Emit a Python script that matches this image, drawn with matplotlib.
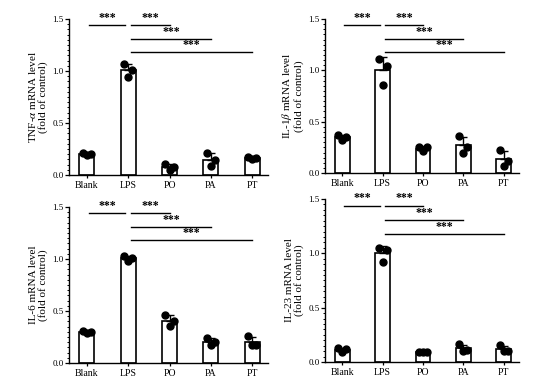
import numpy as np
import matplotlib
matplotlib.use("Agg")
from matplotlib import pyplot as plt
from matplotlib.ticker import MultipleLocator

plt.rcParams['font.family'] = ['Liberation Serif', 'DejaVu Serif']
plt.rcParams['mathtext.fontset'] = 'stix'

groups = ['Blank', 'LPS', 'PO', 'PA', 'PT']

# replicate values (3 per group)
tnf = [[0.21, 0.20, 0.19], [1.07, 1.01, 0.94], [0.105, 0.08, 0.05],
       [0.21, 0.14, 0.09], [0.17, 0.16, 0.155]]
il1b = [[0.367, 0.35, 0.325], [1.11, 1.04, 0.86], [0.25, 0.25, 0.21],
        [0.357, 0.25, 0.20], [0.22, 0.12, 0.07]]
il6 = [[0.31, 0.30, 0.285], [1.026, 1.01, 0.98], [0.465, 0.40, 0.36],
       [0.24, 0.20, 0.17], [0.256, 0.17, 0.17]]
il23 = [[0.128, 0.118, 0.09], [1.05, 1.03, 0.92], [0.09, 0.09, 0.09],
        [0.164, 0.11, 0.10], [0.155, 0.10, 0.10]]

ylabels = [r'TNF-$\alpha$ mRNA level' + '\n(fold of control)',
           r'IL-1$\beta$ mRNA level' + '\n(fold of control)',
           'IL-6 mRNA level\n(fold of control)',
           'IL-23 mRNA level\n(fold of control)']

# comparisons: (start, end, y)
comps = [(0, 1, 1.44), (1, 2, 1.44), (1, 3, 1.31), (1, 4, 1.18)]

panels = [tnf, il1b, il6, il23]
rects = [[0.1234, 0.5419, 0.356, 0.4084],
         [0.5814, 0.547, 0.347, 0.403],
         [0.1234, 0.0497, 0.356, 0.4084],
         [0.5814, 0.0524, 0.347, 0.4267]]

fig = plt.figure(figsize=(5.59, 3.82), dpi=100)

offs = np.array([-0.1, 0.1, 0.0])
for data, lab, rc in zip(panels, ylabels, rects):
    ax = fig.add_axes(rc)
    x = np.arange(len(groups))
    arr = np.array(data)
    m = arr.mean(axis=1)
    sd = arr.std(axis=1, ddof=1)
    ax.bar(x, m, width=0.36, color='white', edgecolor='black', linewidth=1.2, zorder=2)
    ax.errorbar(x, m, yerr=[np.zeros_like(sd), sd], fmt='none', ecolor='black',
                elinewidth=1.0, capsize=3, capthick=1.0, zorder=3)
    for i in range(len(groups)):
        ax.plot(x[i] + offs, arr[i], 'o', color='black', markersize=5, zorder=4,
                clip_on=False)
    for a, b, yy in comps:
        x0 = a + 0.05 if a == 0 else a + 0.07
        x1 = b - 0.07 if a == 0 else b
        ax.plot([x0, x1], [yy, yy], color='black', lw=1.0, clip_on=False)
        ax.text((x0 + x1) / 2, yy + 0.01, '***', ha='center', va='bottom',
                fontsize=8.5, fontweight='bold', clip_on=False)
    ax.set_xlim(-0.43, 4.38)
    ax.set_ylim(0, 1.5)
    ax.set_xticks(x)
    ax.set_xticklabels(groups, fontsize=7)
    ax.set_yticks([0, 0.5, 1.0, 1.5])
    ax.set_yticklabels(['0.0', '0.5', '1.0', '1.5'], fontsize=6.5)
    ax.yaxis.set_minor_locator(MultipleLocator(0.05))
    ax.tick_params(axis='y', which='major', length=3, width=0.9, pad=1)
    ax.tick_params(axis='y', which='minor', length=1.8, width=0.7)
    ax.tick_params(axis='x', length=2.5, width=0.9, pad=2)
    ax.set_ylabel(lab, fontsize=8, labelpad=3, linespacing=1.0)
    for s in ['top', 'right']:
        ax.spines[s].set_visible(False)
    for s in ['left', 'bottom']:
        ax.spines[s].set_linewidth(1.0)

fig.savefig('out.png', dpi=100)
